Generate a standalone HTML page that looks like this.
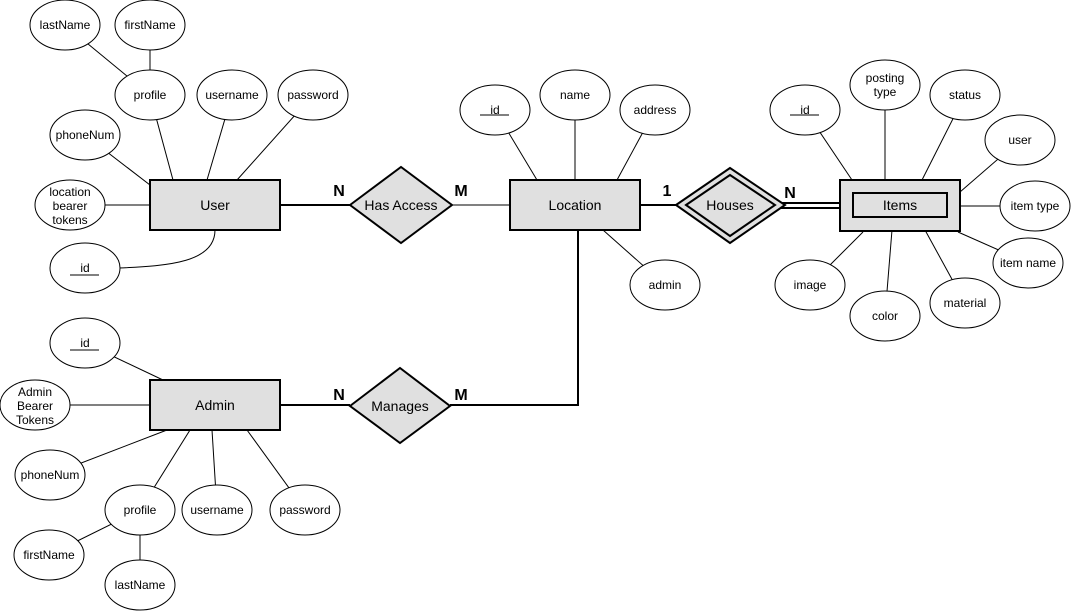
<!DOCTYPE html>
<html><head><meta charset="utf-8"><style>
html,body{margin:0;padding:0;background:#fff;}
svg{display:block;}
text{font-family:"Liberation Sans",sans-serif;font-size:12px;fill:#000;}
.e{fill:#fff;stroke:#000;stroke-width:1;}
.l{stroke:#000;stroke-width:1;fill:none;}
.t{stroke:#000;stroke-width:2;fill:none;}
.r{fill:#e0e0e0;stroke:#000;stroke-width:2;}
.big{font-size:14px;}
.card{font-size:16px;font-weight:bold;}
</style></head><body>
<svg width="1071" height="612" viewBox="0 0 1071 612" xmlns="http://www.w3.org/2000/svg">
<!-- attribute lines -->
<g class="l">
<line x1="65" y1="25" x2="150" y2="95"/><line x1="150" y1="25" x2="150" y2="95"/>
<line x1="150" y1="95" x2="173" y2="180"/><line x1="232" y1="95" x2="207" y2="180"/>
<line x1="313" y1="95" x2="237" y2="180"/><line x1="85" y1="135" x2="150" y2="185"/>
<line x1="70" y1="205" x2="150" y2="205"/>
<path d="M215,230 C215,262 170,266 118,268"/>
<line x1="495" y1="110" x2="537" y2="180"/><line x1="575" y1="95" x2="575" y2="180"/>
<line x1="655" y1="110" x2="617" y2="180"/><line x1="665" y1="285" x2="603" y2="230"/>
<line x1="452" y1="205" x2="510" y2="205"/>
<line x1="805" y1="110" x2="852" y2="180"/><line x1="885" y1="85" x2="885" y2="180"/>
<line x1="965" y1="95" x2="922" y2="180"/><line x1="1020" y1="140" x2="960" y2="192"/>
<line x1="1035" y1="206" x2="960" y2="206"/><line x1="1028" y1="263" x2="958" y2="232"/>
<line x1="810" y1="285" x2="863" y2="232"/><line x1="885" y1="316" x2="892" y2="230"/>
<line x1="965" y1="303" x2="925" y2="230"/>
<line x1="85" y1="343" x2="163" y2="380"/><line x1="35" y1="405" x2="150" y2="405"/>
<line x1="50" y1="475" x2="167" y2="430"/><line x1="140" y1="510" x2="190" y2="430"/>
<line x1="217" y1="510" x2="212" y2="430"/><line x1="305" y1="510" x2="247" y2="430"/>
<line x1="49" y1="555" x2="140" y2="510"/><line x1="140" y1="510" x2="140" y2="585"/>
</g>
<g class="t">
<line x1="280" y1="205" x2="350" y2="205"/>
<line x1="640" y1="205" x2="678" y2="205"/>
<line x1="280" y1="405" x2="350" y2="405"/>
<polyline points="450,405 578,405 578,230"/>
<line x1="780" y1="203" x2="840" y2="203"/>
<line x1="780" y1="208" x2="840" y2="208"/>
</g>
<!-- ellipses -->
<g class="e">
<ellipse cx="65" cy="25" rx="35" ry="25"/><ellipse cx="150" cy="25" rx="35" ry="25"/>
<ellipse cx="150" cy="95" rx="35" ry="25"/><ellipse cx="232" cy="95" rx="35" ry="25"/>
<ellipse cx="313" cy="95" rx="35" ry="25"/><ellipse cx="85" cy="135" rx="35" ry="25"/>
<ellipse cx="70" cy="205" rx="35" ry="25"/><ellipse cx="85" cy="268" rx="35" ry="25"/>
<ellipse cx="495" cy="110" rx="35" ry="25"/><ellipse cx="575" cy="95" rx="35" ry="25"/>
<ellipse cx="655" cy="110" rx="35" ry="25"/><ellipse cx="665" cy="285" rx="35" ry="25"/>
<ellipse cx="805" cy="110" rx="35" ry="25"/><ellipse cx="885" cy="85" rx="35" ry="25"/>
<ellipse cx="965" cy="95" rx="35" ry="25"/><ellipse cx="1020" cy="140" rx="35" ry="25"/>
<ellipse cx="1035" cy="206" rx="35" ry="25"/><ellipse cx="1028" cy="263" rx="35" ry="25"/>
<ellipse cx="810" cy="285" rx="35" ry="25"/><ellipse cx="885" cy="316" rx="35" ry="25"/>
<ellipse cx="965" cy="303" rx="35" ry="25"/>
<ellipse cx="85" cy="343" rx="35" ry="25"/><ellipse cx="35" cy="405" rx="35" ry="25"/>
<ellipse cx="50" cy="475" rx="35" ry="25"/><ellipse cx="140" cy="510" rx="35" ry="25"/>
<ellipse cx="217" cy="510" rx="35" ry="25"/><ellipse cx="305" cy="510" rx="35" ry="25"/>
<ellipse cx="49" cy="555" rx="35" ry="25"/><ellipse cx="140" cy="585" rx="35" ry="25"/>
</g>
<!-- entities -->
<rect class="r" x="150" y="180" width="130" height="50"/>
<rect class="r" x="510" y="180" width="130" height="50"/>
<rect class="r" x="840" y="180" width="120" height="51"/>
<rect class="r" x="853" y="193" width="94" height="24"/>
<rect class="r" x="150" y="380" width="130" height="50"/>
<!-- relationships -->
<polygon class="r" points="350,205 401,167 452,205 401,243"/>
<polygon class="r" points="350,406 400,368 450,406 400,443"/>
<polygon class="r" points="676,205 730,168 785,205 730,243"/>
<polygon fill="none" stroke="#000" stroke-width="2" points="686,205 730,175 775,205 730,236"/>
<!-- text -->
<g text-anchor="middle">
<text x="65" y="29">lastName</text><text x="150" y="29">firstName</text>
<text x="150" y="99">profile</text><text x="232" y="99">username</text>
<text x="313" y="99">password</text><text x="85" y="139">phoneNum</text>
<text x="70" y="196">location</text><text x="70" y="210">bearer</text><text x="70" y="224">tokens</text>
<text x="85" y="272">id</text>
<text x="495" y="114">id</text><text x="575" y="99">name</text>
<text x="655" y="114">address</text><text x="665" y="289">admin</text>
<text x="805" y="114">id</text><text x="885" y="82">posting</text><text x="885" y="96">type</text>
<text x="965" y="99">status</text><text x="1020" y="144">user</text>
<text x="1035" y="210">item type</text><text x="1028" y="267">item name</text>
<text x="810" y="289">image</text><text x="885" y="320">color</text><text x="965" y="307">material</text>
<text x="85" y="347">id</text>
<text x="35" y="396">Admin</text><text x="35" y="410">Bearer</text><text x="35" y="424">Tokens</text>
<text x="50" y="479">phoneNum</text><text x="140" y="514">profile</text>
<text x="217" y="514">username</text><text x="305" y="514">password</text>
<text x="49" y="559">firstName</text><text x="140" y="589">lastName</text>
<text class="big" x="215" y="210">User</text>
<text class="big" x="575" y="210">Location</text>
<text class="big" x="900" y="210">Items</text>
<text class="big" x="215" y="410">Admin</text>
<text class="big" x="401" y="210">Has Access</text>
<text class="big" x="400" y="411">Manages</text>
<text class="big" x="730" y="210">Houses</text>
<text class="card" x="339" y="196">N</text><text class="card" x="461" y="196">M</text>
<text class="card" x="667" y="196">1</text><text class="card" x="790" y="198">N</text>
<text class="card" x="339" y="400">N</text><text class="card" x="461" y="400">M</text>
</g>
<g class="l">
<line x1="70" y1="275" x2="99" y2="275"/>
<line x1="480" y1="115" x2="509" y2="115"/>
<line x1="790" y1="115" x2="819" y2="115"/>
<line x1="70" y1="350" x2="99" y2="350"/>
</g>
</svg>
</body></html>
